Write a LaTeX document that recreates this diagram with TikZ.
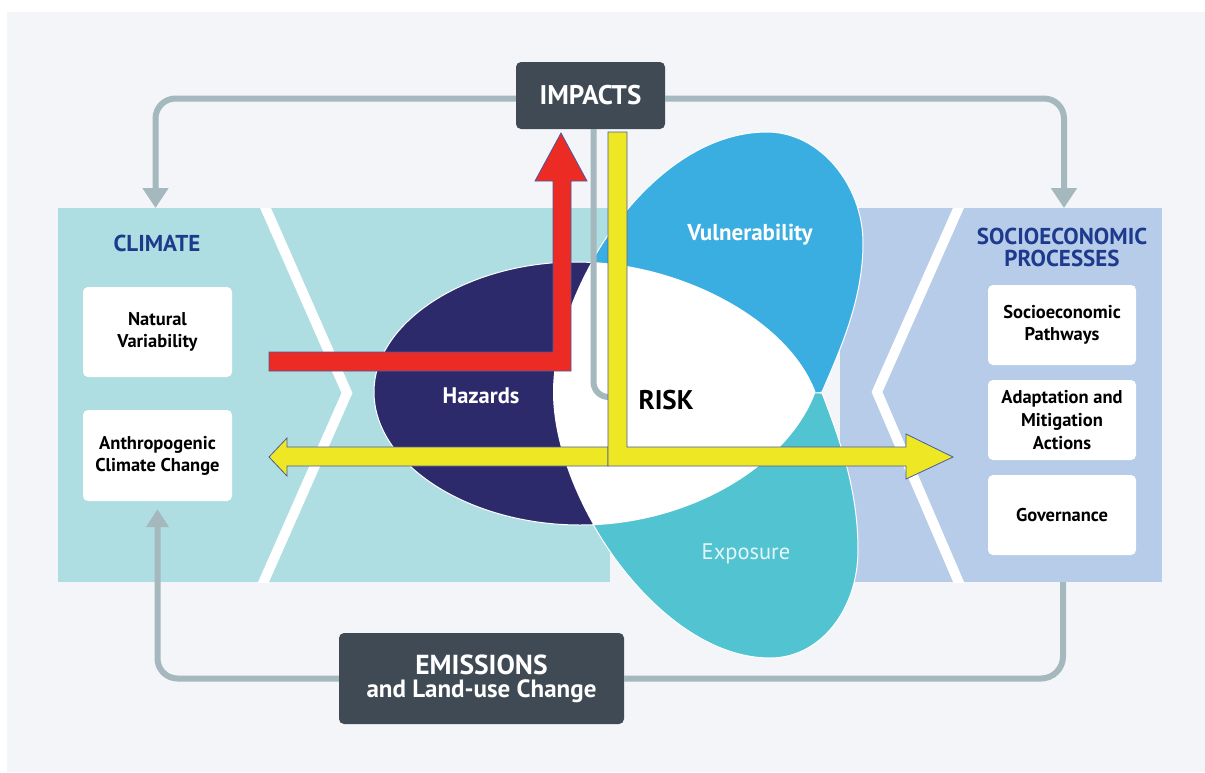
\documentclass[tikz,border=0pt]{standalone}
\usepackage{fontspec}
\setmainfont{PT Sans}
\usetikzlibrary{arrows.meta}

\definecolor{bgpale}{HTML}{F3F5F9}
\definecolor{climteal}{HTML}{AEDEE1}
\definecolor{socblue}{HTML}{B7CCE9}
\definecolor{hazblue}{HTML}{2D2A6C}
\definecolor{vulblue}{HTML}{3BAEE1}
\definecolor{expteal}{HTML}{52C3D1}
\definecolor{boxgray}{HTML}{3F4A54}
\definecolor{linkgray}{HTML}{A4B8BE}
\definecolor{titleblue}{HTML}{1E3A8C}
\definecolor{arrred}{HTML}{EC2B25}
\definecolor{arryellow}{HTML}{EDE823}
\definecolor{arredge}{HTML}{4A5AA0}

\begin{document}
\begin{tikzpicture}[x=1pt, y=-1pt,
  hubbox/.style={fill=boxgray, rounded corners=5pt, text=white, inner sep=0pt, align=center},
  itembox/.style={fill=white, rounded corners=5pt, inner sep=0pt, align=center,
    minimum width=149pt, font=\bfseries\fontsize{18.5}{22}\selectfont},
  paneltitle/.style={text=titleblue, align=center, font=\bfseries\fontsize{23}{22}\selectfont},
  lobetext/.style={text=white, font=\bfseries\fontsize{22.5}{24}\selectfont},
  link/.style={draw=linkgray, line width=6pt, rounded corners=20pt},
  blockarrow/.style={draw=arredge, line width=0.8pt, line join=miter}]

\useasboundingbox (0,0) rectangle (1205,772);
\fill[white] (0,0) rectangle (1205,772);
\fill[bgpale] (7,12) rectangle (1205,772);

% climate and socioeconomic bands
\fill[climteal] (58,208) rectangle (610,582);
\fill[socblue] (840,208) rectangle (1162,582);
\begin{scope}
  \clip (58,208) rectangle (1162,582);
  \draw[white, line width=10pt] (262,200) -- (347,393) -- (260,590);
  \draw[white, line width=10pt] (962,200) -- (877,392) -- (962,590);
\end{scope}

% lobes
\def\vulpath{(553,392) .. controls (553,290) and (650,132) .. (767,132)
  .. controls (820,132) and (863,185) .. (863,243)
  .. controls (863,300) and (840,350) .. (822,392) -- (700,420) -- cycle}
\def\exppath{(553,392) .. controls (553,500) and (660,658) .. (770,658)
  .. controls (820,658) and (858,610) .. (858,550)
  .. controls (858,490) and (840,440) .. (822,393) -- cycle}
\def\hazpath{(374,392) .. controls (374,320) and (470,262) .. (575,262)
  .. controls (680,262) and (788,320) .. (815,392)
  .. controls (788,465) and (690,525) .. (580,525)
  .. controls (470,525) and (374,465) .. cycle}

\fill[vulblue, draw=white, line width=1pt] \vulpath;
\fill[expteal, draw=white, line width=1pt] \exppath;
\fill[hazblue, draw=white, line width=1pt] \hazpath;
\begin{scope}
  \clip \hazpath;
  \fill[white] \vulpath;
  \fill[white] \exppath;
\end{scope}

% boxes
\node[hubbox, minimum width=149pt, minimum height=67pt, font=\bfseries\fontsize{27}{30}\selectfont]
  (impacts) at (590.5,95.5) {IMPACTS};
\node[hubbox, minimum width=285pt, minimum height=91pt] (emissions) at (481.5,678.5)
  {{\bfseries\fontsize{27.5}{30}\selectfont EMISSIONS}\\[4pt]{\bfseries\fontsize{25}{27}\selectfont and Land-use Change}};

\node[paneltitle] (climate) at (157,243) {CLIMATE};
\node[itembox, minimum height=90pt] (natural) at (157.5,332) {Natural\\Variability};
\node[itembox, minimum height=91pt] (anthro) at (157.5,455.5) {Anthropogenic\\Climate Change};

\node[paneltitle] (socio) at (1062,247) {SOCIOECONOMIC\\PROCESSES};
\node[itembox, minimum width=148pt, minimum height=80pt] (pathways) at (1062,325) {Socioeconomic\\Pathways};
\node[itembox, minimum width=148pt, minimum height=80pt, font=\bfseries\fontsize{18.5}{23}\selectfont]
  (adapt) at (1062,420) {Adaptation and\\Mitigation\\Actions};
\node[itembox, minimum width=148pt, minimum height=80pt] (govern) at (1062,515) {Governance};

\coordinate (climtop) at (155.5,208);
\coordinate (soctop) at (1064,208);
\coordinate (socbot) at (1063,582);
\coordinate (riskjoin) at (610,397);

% connectors
\draw[link, -{Triangle[length=20pt,width=25pt]}] ([yshift=-3pt]impacts.west) -| (climtop);
\draw[link, -{Triangle[length=20pt,width=25pt]}] ([yshift=-3pt]impacts.east) -| (soctop);
\draw[link, rounded corners=22pt] (socbot) |- (emissions.east);
\draw[link, -{Triangle[length=18pt,width=22pt]}, shorten >=8pt] (emissions.west) -| (anthro.south);
\draw[link, rounded corners=15pt] ([xshift=3pt]impacts.south) |- (riskjoin);

% lobe labels
\node[lobetext] (hazards) at (481,396) {Hazards};
\node[lobetext, font=\bfseries\fontsize{23}{24}\selectfont] (vulner) at (750,235) {Vulnerability};
\node[lobetext, text=white!85!expteal, font=\fontsize{22.5}{24}\selectfont] (expos) at (746,554) {Exposure};
\node[font=\bfseries\fontsize{27}{30}\selectfont] (risk) at (666,400) {RISK};

% red and yellow block arrows
\filldraw[blockarrow, fill=arrred] (269,352) -- (553,352) -- (553,181) -- (535,181) -- (561,133)
  -- (587,181) -- (571,181) -- (571,371) -- (269,371) -- cycle;
\filldraw[blockarrow, fill=arryellow] (608,447) -- (287,447) -- (287,438) -- (269,457) -- (287,476)
  -- (287,466) -- (608,466) -- cycle;
\filldraw[blockarrow, fill=arryellow] (608,132) -- (627,132) -- (627,447) -- (906,447) -- (906,434)
  -- (953,457) -- (906,479) -- (906,466) -- (608,466) -- cycle;
\end{tikzpicture}
\end{document}
